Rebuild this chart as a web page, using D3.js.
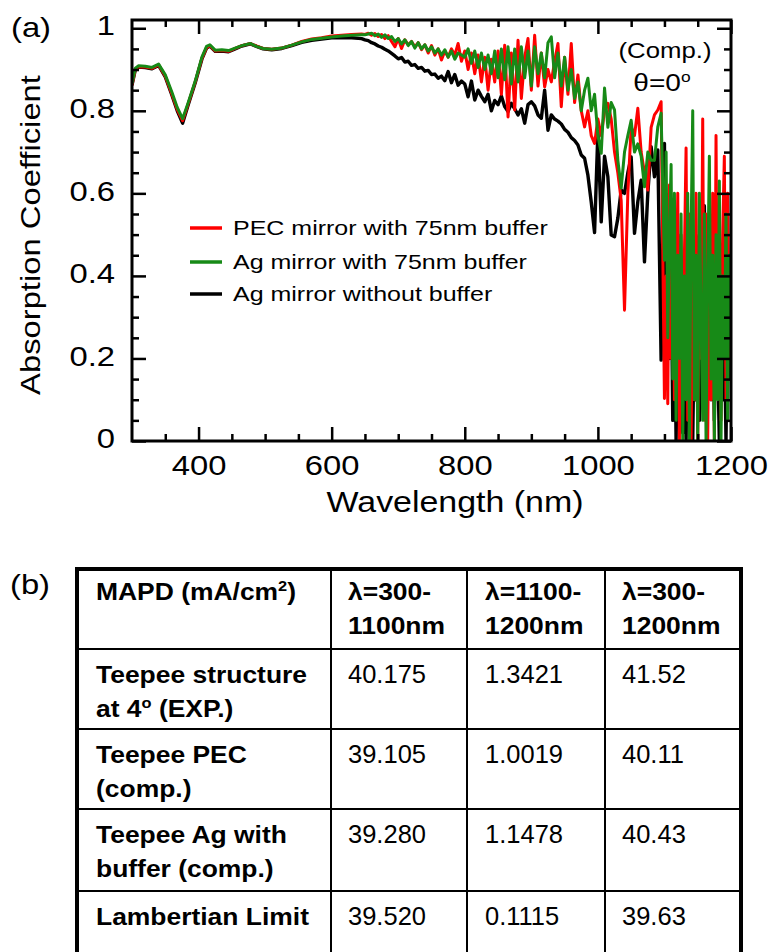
<!DOCTYPE html>
<html>
<head>
<meta charset="utf-8">
<script src="https://cdn.jsdelivr.net/npm/d3@7"></script>
<style>
  body { margin: 0; background: #fff; }
  svg { display: block; }
  text { font-family: "Liberation Sans", Arial, sans-serif; fill: #000; }
</style>
</head>
<body>
<div id="chart"></div>
<script>
// ---- data ----
const wavelength = [
  300, 305, 310, 320, 330, 340, 350, 360, 368, 376, 384, 395, 405, 412, 417, 425, 435, 445, 455, 465,
  478, 487, 497, 510, 525, 540, 555, 570, 585, 600, 615, 630, 645,
  650, 655, 660, 665, 670, 675, 680, 685, 690, 695, 700, 705, 710, 715, 720, 725, 730, 735, 740, 745,
  750, 755, 760, 765, 770, 775, 780, 785, 790, 795, 800, 805, 810, 815, 820, 825, 830, 835, 840, 845,
  850, 855, 860, 865, 870, 875, 880, 885, 890, 895, 900, 905, 910, 915, 920, 925, 930, 935, 940, 945,
  950, 955, 960, 965, 970, 975, 980, 985, 990, 995, 1000, 1005, 1010, 1015, 1020, 1025, 1030, 1035, 1040, 1045,
  1050, 1055, 1060, 1065, 1070, 1075, 1080, 1085, 1090, 1095, 1100,
  1102.5, 1105, 1107.5, 1110, 1112.5, 1115, 1117.5, 1120, 1122.5, 1125,
  1127.5, 1130, 1132.5, 1135, 1137.5, 1140, 1142.5, 1145, 1147.5, 1150,
  1152.5, 1155, 1157.5, 1160, 1162.5, 1165, 1167.5, 1170, 1172.5, 1175,
  1177.5, 1180, 1182.5, 1185, 1187.5, 1190, 1192.5, 1195, 1197.5, 1200
];

// PEC mirror with 75nm buffer (red)
const pecBuffer = [
  .862, .901, .907, .906, .903, .911, .884, .840, .803, .776, .815, .870, .927, .953, .958, .945, .946, .944, .951, .958,
  .963, .957, .951, .949, .952, .959, .968, .974, .977, .981, .983, .985, .986,
  .985, .988, .983, .987, .980, .985, .975, .982, .968, .955, .975, .951, .972, .960, .968, .955, .965, .948, .960, .940,
  .958, .935, .950, .923, .945, .930, .950, .935, .963, .920, .945, .900, .940, .890, .935, .870, .930, .850, .925, .870,
  .945, .840, .959, .785, .940, .802, .971, .830, .930, .975, .850, .983, .860, .940, .858, .900, .870, .920, .963, .810,
  .930, .840, .963, .820, .887, .800, .761, .800, .740, .721, .780, .740, .800, .818, .780, .700, .649, .583, .317, .600,
  .761, .740, .806, .700, .650, .608, .760, .790, .802, .822, .103,
  .40, .09, .62, .20, .55, .10, .30, .60, 0, .50,
  .15, .45, .71, .05, .55, 0, .40, .10, .60, 0,
  .50, .20, .78, .05, .55, 0, .45, .10, .60, 0,
  .74, .15, .55, .05, .50, .69, .10, .60, .20, .45
];

// Ag mirror with 75nm buffer (green)
const agBuffer = [
  .866, .903, .909, .908, .905, .913, .887, .845, .808, .781, .818, .872, .930, .956, .960, .947, .948, .946, .952, .958,
  .963, .956, .951, .949, .952, .959, .967, .973, .976, .979, .981, .983, .984,
  .984, .986, .988, .982, .986, .978, .984, .975, .980, .968, .975, .962, .972, .958, .968, .952, .965, .950, .960, .945,
  .955, .940, .950, .935, .948, .930, .945, .925, .940, .935, .930, .950, .915, .945, .905, .940, .900, .935, .890, .945,
  .880, .950, .875, .955, .865, .950, .870, .955, .880, .945, .860, .955, .890, .940, .880, .965, .979, .880, .940, .860,
  .930, .850, .900, .830, .870, .800, .850, .879, .800, .840, .740, .697, .855, .760, .820, .802, .680, .613, .700, .740,
  .777, .700, .720, .690, .616, .700, .680, .680, .761, .794, .438,
  .70, .25, .50, .67, .15, .60, .05, .45, .20, .55,
  0, .40, .10, .60, 0, .50, .80, .10, .45, 0,
  .60, .30, .05, .55, 0, .40, .69, .15, .45, 0,
  .50, .10, .63, 0, .40, .20, .55, .05, .45, .25
];

// Ag mirror without buffer (black)
const agNoBuffer = [
  .862, .900, .906, .905, .902, .910, .882, .838, .800, .770, .812, .868, .925, .952, .957, .944, .945, .943, .950, .957,
  .962, .956, .950, .948, .951, .958, .966, .971, .974, .977, .977, .977, .975,
  .972, .970, .965, .962, .957, .954, .949, .945, .939, .933, .926, .929, .918, .920, .910, .912, .903, .905, .896, .898,
  .888, .889, .879, .884, .873, .895, .868, .888, .862, .872, .865, .834, .872, .826, .850, .835, .822, .840, .800, .825,
  .815, .836, .810, .798, .818, .805, .790, .805, .770, .815, .822, .812, .790, .782, .850, .753, .790, .780, .775, .768,
  .755, .748, .735, .728, .717, .693, .685, .644, .579, .505, .750, .531, .690, .640, .499, .495, .540, .608, .600, .650,
  .688, .503, .580, .632, .434, .600, .713, .640, .705, .196, .721,
  .13, .55, .20, .45, .05, .36, 0, .30, .10, .40,
  .02, .25, 0, .35, .05, .40, 0, .30, .10, .45,
  .05, .50, .15, .57, .20, .40, .46, .10, .35, .05,
  .40, .20, 0, .33, .10, .28, 0, .35, .15, .30
];

const seriesNames = ["PEC mirror with 75nm buffer", "Ag mirror with 75nm buffer", "Ag mirror without buffer"];
const seriesColors = ["#ff0000", "#178a17", "#000000"];

const xMajor = [400, 600, 800, 1000, 1200];
const xMinor = [350, 450, 500, 550, 650, 700, 750, 850, 900, 950, 1050, 1100, 1150];
const yMajor = [0, 0.2, 0.4, 0.6, 0.8, 1];
const yLabels = ["0", "0.2", "0.4", "0.6", "0.8", "1"];
const yMinor = [0.05, 0.1, 0.15, 0.25, 0.3, 0.35, 0.45, 0.5, 0.55, 0.65, 0.7, 0.75, 0.85, 0.9, 0.95];

// table (b)
const tableHeader = [["MAPD (mA/cm^2)"], ["λ=300-", "1100nm"], ["λ=1100-", "1200nm"], ["λ=300-", "1200nm"]];
const rowLabels = [["Teepee structure", "at 4^o (EXP.)"], ["Teepee PEC", "(comp.)"], ["Teepee Ag with", "buffer (comp.)"], ["Lambertian Limit"]];
const mapd300to1100 = ["40.175", "39.105", "39.280", "39.520"];
const mapd1100to1200 = ["1.3421", "1.0019", "1.1478", "0.1115"];
const mapd300to1200 = ["41.52", "40.11", "40.43", "39.63"];

// ---- layout ----
const width = 770, height = 952;
const plot = { left: 132, right: 731, top: 20, bottom: 441 };
const stretch = 1.17; // the figure's font runs wider than Arial

const svg = d3.select("#chart").append("svg")
  .attr("width", width)
  .attr("height", height)
  .attr("viewBox", `0 0 ${width} ${height}`);

const x = d3.scaleLinear().domain([300, 1200]).range([plot.left, plot.right]);
const y = d3.scaleLinear().domain([0, 1.02]).range([plot.bottom, plot.top]);

// text helper: supports "^x" superscripts
function addText(parent, px, py, str, size, opts = {}) {
  const { weight = "normal", anchor = "start", k = stretch, rotate = 0 } = opts;
  const t = parent.append("text")
    .attr("transform", `translate(${px},${py})` + (rotate ? ` rotate(${rotate})` : "") + ` scale(${k},1)`)
    .attr("font-size", size)
    .attr("font-weight", weight)
    .attr("text-anchor", anchor);
  const parts = str.split(/\^(.)/);
  const shift = size * 0.38;
  parts.forEach((p, i) => {
    if (!p) return;
    if (i % 2 === 1) {
      t.append("tspan").attr("font-size", size * 0.62).attr("dy", -shift).text(p);
      // next piece drops back to baseline
      parts[i + 1] = parts[i + 1] || "";
      t.append("tspan").attr("dy", shift).text(parts[i + 1]);
      parts[i + 1] = "";
    } else {
      t.append("tspan").text(p);
    }
  });
  return t;
}

// ---- panel (a) ----
svg.append("clipPath").attr("id", "plotClip")
  .append("rect")
  .attr("x", plot.left).attr("y", plot.top)
  .attr("width", plot.right - plot.left).attr("height", plot.bottom - plot.top);

const line = d3.line()
  .x(d => x(d[0]))
  .y(d => y(d[1]));

const series = [
  { values: agNoBuffer, color: seriesColors[2], w: 3.4 },
  { values: pecBuffer, color: seriesColors[0], w: 3 },
  { values: agBuffer, color: seriesColors[1], w: 3 }
];

svg.append("g")
  .attr("clip-path", "url(#plotClip)")
  .selectAll("path")
  .data(series)
  .join("path")
    .attr("fill", "none")
    .attr("stroke", s => s.color)
    .attr("stroke-width", s => s.w)
    .attr("stroke-linejoin", "round")
    .attr("d", s => line(wavelength.map((w, i) => [w, s.values[i]])));

// ticks on all four sides, pointing inward
function styleAxis(g) {
  g.select(".domain").remove();
  g.selectAll(".tick line").attr("stroke", "#000").attr("stroke-width", 2.5);
}

svg.append("g").attr("transform", `translate(0,${plot.bottom})`)
  .call(d3.axisBottom(x).tickValues(xMajor).tickSize(-14).tickPadding(14).tickFormat(d => d))
  .call(styleAxis)
  .call(g => g.selectAll("text")
    .attr("font-size", 28).attr("font-family", "Liberation Sans, Arial, sans-serif")
    .attr("transform", `scale(${stretch},1)`));
svg.append("g").attr("transform", `translate(0,${plot.bottom})`)
  .call(d3.axisBottom(x).tickValues(xMinor).tickSize(-7).tickFormat(""))
  .call(styleAxis);
svg.append("g").attr("transform", `translate(0,${plot.top})`)
  .call(d3.axisTop(x).tickValues(xMajor).tickSize(-14).tickFormat(""))
  .call(styleAxis);
svg.append("g").attr("transform", `translate(0,${plot.top})`)
  .call(d3.axisTop(x).tickValues(xMinor).tickSize(-7).tickFormat(""))
  .call(styleAxis);

svg.append("g").attr("transform", `translate(${plot.left},0)`)
  .call(d3.axisLeft(y).tickValues(yMajor).tickSize(-14).tickFormat((d, i) => yLabels[i]))
  .call(styleAxis)
  .call(g => g.selectAll("text")
    .attr("font-size", 28).attr("font-family", "Liberation Sans, Arial, sans-serif")
    .attr("x", null).attr("dy", "0.24em")
    .attr("transform", `translate(-17,0) scale(${stretch},1)`));
svg.append("g").attr("transform", `translate(${plot.left},0)`)
  .call(d3.axisLeft(y).tickValues(yMinor).tickSize(-7).tickFormat(""))
  .call(styleAxis);
svg.append("g").attr("transform", `translate(${plot.right},0)`)
  .call(d3.axisRight(y).tickValues(yMajor).tickSize(-14).tickFormat(""))
  .call(styleAxis);
svg.append("g").attr("transform", `translate(${plot.right},0)`)
  .call(d3.axisRight(y).tickValues(yMinor).tickSize(-7).tickFormat(""))
  .call(styleAxis);

// frame
svg.append("rect")
  .attr("x", plot.left).attr("y", plot.top)
  .attr("width", plot.right - plot.left).attr("height", plot.bottom - plot.top)
  .attr("fill", "none").attr("stroke", "#000").attr("stroke-width", 3);

// axis titles and panel labels
addText(svg, 455, 512, "Wavelength (nm)", 29, { anchor: "middle" });
addText(svg, 40, 235, "Absorption Coefficient", 28, { anchor: "middle", rotate: -90 });
addText(svg, 11, 37, "(a)", 28);
addText(svg, 10, 594, "(b)", 28);
addText(svg, 665, 58, "(Comp.)", 22, { anchor: "middle" });
addText(svg, 662, 91, "θ=0^o", 24, { anchor: "middle" });

// legend
const legendRows = [228, 262, 294];
const legend = svg.append("g");
seriesNames.forEach((name, i) => {
  legend.append("line")
    .attr("x1", 190).attr("x2", 222)
    .attr("y1", legendRows[i]).attr("y2", legendRows[i])
    .attr("stroke", seriesColors[i]).attr("stroke-width", 3.5);
  addText(legend, 233, legendRows[i] + 7, name, 21, { k: 1.19 });
});

// ---- panel (b): table ----
const colEdges = [77, 331, 467, 605, 741];
const rowEdges = [569, 649, 729, 809, 891, 995];
const textPad = [19, 17, 18, 17];
const table = svg.append("g");

colEdges.slice(1, -1).forEach(cx => {
  table.append("line").attr("x1", cx).attr("x2", cx)
    .attr("y1", rowEdges[0]).attr("y2", height)
    .attr("stroke", "#000").attr("stroke-width", 2);
});
rowEdges.slice(1, -1).forEach(ry => {
  table.append("line").attr("x1", colEdges[0]).attr("x2", colEdges[colEdges.length - 1])
    .attr("y1", ry).attr("y2", ry)
    .attr("stroke", "#000").attr("stroke-width", 2);
});
table.append("rect")
  .attr("x", colEdges[0]).attr("y", rowEdges[0])
  .attr("width", colEdges[4] - colEdges[0]).attr("height", rowEdges[5] - rowEdges[0])
  .attr("fill", "none").attr("stroke", "#000").attr("stroke-width", 4);

// header row
tableHeader.forEach((lines, c) => {
  lines.forEach((ln, j) => {
    addText(table, colEdges[c] + textPad[c], rowEdges[0] + 31 + j * 34, ln, 23, { weight: "bold", k: 1.15 });
  });
});

// body rows
const valueCols = [mapd300to1100, mapd1100to1200, mapd300to1200];
rowLabels.forEach((lines, r) => {
  const base = rowEdges[r + 1] + 34;
  lines.forEach((ln, j) => {
    addText(table, colEdges[0] + textPad[0], base + j * 34, ln, 23, { weight: "bold", k: 1.15 });
  });
  valueCols.forEach((col, c) => {
    addText(table, colEdges[c + 1] + textPad[c + 1], base, col[r], 25, { k: 1.02 });
  });
});
</script>
</body>
</html>
